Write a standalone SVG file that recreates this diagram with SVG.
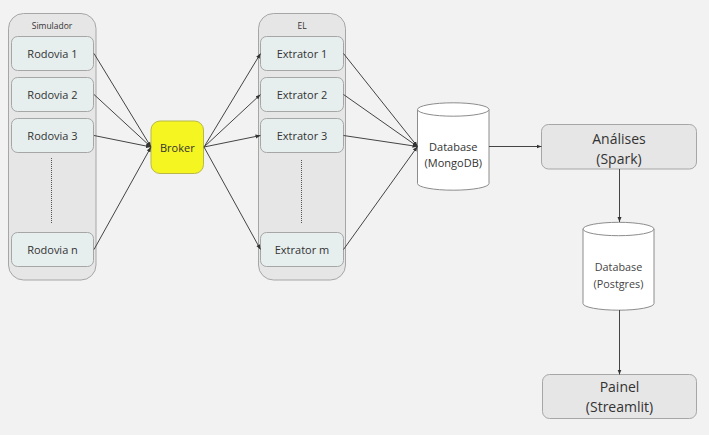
<svg xmlns="http://www.w3.org/2000/svg" width="709" height="435" viewBox="0 0 709 435">
<style>
text{font-family:"Open Sans","Noto Sans","DejaVu Sans",sans-serif;fill:#333;text-anchor:middle;dominant-baseline:central}
.cont{fill:#e6e6e6;stroke:#a6a6a6;stroke-width:1}
.box{fill:#e6eeee;stroke:#a6a6a6;stroke-width:1}
.gbox{fill:#e6e6e6;stroke:#a6a6a6;stroke-width:1}
.cyl{fill:#ffffff;stroke:#8c8c8c;stroke-width:1}
.t11{font-size:11px}
.t8{font-size:8.5px}
.t14{font-size:14px}
.t10{font-size:10.8px;fill:#444}
.dot{stroke:#555;stroke-width:1;stroke-dasharray:1 1;fill:none}
.edge{stroke:#444;stroke-width:1;fill:none;marker-end:url(#arr)}
</style>
<defs>
<marker id="arr" viewBox="0 0 10 10" refX="10" refY="5" markerWidth="5" markerHeight="5" orient="auto" markerUnits="userSpaceOnUse">
<path d="M0,1 L10,5 L0,9 Z" fill="#333"/>
</marker>
</defs>
<rect width="709" height="435" fill="#f2f2f2"/>

<g id="simulador">
<rect class="cont" x="8.5" y="13.5" width="87.5" height="266.5" rx="15"/>
<text class="t8" x="52" y="25">Simulador</text>
<line class="dot" x1="51.5" y1="158" x2="51.5" y2="223"/>
</g>
<g id="rodovia1"><rect class="box" x="11.5" y="36.5" width="82" height="34" rx="6"/><text class="t11" x="52.5" y="53.5">Rodovia 1</text></g>
<g id="rodovia2"><rect class="box" x="11.5" y="77.5" width="82" height="34" rx="6"/><text class="t11" x="52.5" y="94.5">Rodovia 2</text></g>
<g id="rodovia3"><rect class="box" x="11.5" y="118.5" width="82" height="34" rx="6"/><text class="t11" x="52.5" y="135.5">Rodovia 3</text></g>
<g id="rodovian"><rect class="box" x="11.5" y="232.5" width="82" height="34" rx="6"/><text class="t11" x="52.5" y="249.5">Rodovia n</text></g>

<g id="broker"><rect x="151" y="121" width="52.5" height="52.5" rx="9" fill="#f5f522" stroke="#b8b84a" stroke-width="1"/><text class="t11" x="177.3" y="147">Broker</text></g>

<g id="el">
<rect class="cont" x="258.5" y="13.5" width="87" height="266.5" rx="15"/>
<text class="t8" x="302" y="25">EL</text>
<line class="dot" x1="301.5" y1="160" x2="301.5" y2="224"/>
</g>
<g id="extrator1"><rect class="box" x="260.5" y="36.5" width="83" height="34" rx="6"/><text class="t11" x="302" y="53.5">Extrator 1</text></g>
<g id="extrator2"><rect class="box" x="260.5" y="77.5" width="83" height="34" rx="6"/><text class="t11" x="302" y="94.5">Extrator 2</text></g>
<g id="extrator3"><rect class="box" x="260.5" y="118.5" width="83" height="34" rx="6"/><text class="t11" x="302" y="135.5">Extrator 3</text></g>
<g id="extratorm"><rect class="box" x="260.5" y="232.5" width="83" height="34" rx="6"/><text class="t11" x="302" y="249.5">Extrator m</text></g>

<g id="mongodb">
<path class="cyl" d="M417.5,109.5 A35.75,6.7 0 0 1 489,109.5 L489,183.5 A35.75,6.7 0 0 1 417.5,183.5 Z"/>
<path class="cyl" fill="none" d="M417.5,109.5 A35.75,6.7 0 0 0 489,109.5"/>
<text class="t11" x="453.3" y="146.5">Database</text>
<text class="t11" x="453.3" y="162">(MongoDB)</text>
</g>

<g id="analises"><rect class="gbox" x="541.5" y="124.5" width="155" height="44.5" rx="7"/><text class="t14" x="619" y="138.5">Análises</text><text class="t14" x="619" y="158">(Spark)</text></g>

<g id="postgres">
<path class="cyl" d="M583,229 A35.5,6.7 0 0 1 654,229 L654,303.5 A35.5,6.7 0 0 1 583,303.5 Z"/>
<path class="cyl" fill="none" d="M583,229 A35.5,6.7 0 0 0 654,229"/>
<text class="t10" x="618.5" y="266">Database</text>
<text class="t10" x="618.5" y="283">(Postgres)</text>
</g>

<g id="painel"><rect class="gbox" x="542.5" y="374.5" width="154" height="44" rx="7"/><text class="t14" x="619.5" y="386.5">Painel</text><text class="t14" x="619.5" y="406.5">(Streamlit)</text></g>

<g id="connectors">
<line class="edge" x1="94" y1="53.5" x2="151" y2="147"/>
<line class="edge" x1="94" y1="94.5" x2="151" y2="147"/>
<line class="edge" x1="94" y1="135.5" x2="151" y2="147"/>
<line class="edge" x1="94" y1="249.5" x2="151" y2="147"/>
<line class="edge" x1="204" y1="147" x2="260.5" y2="53.5"/>
<line class="edge" x1="204" y1="147" x2="260.5" y2="94.5"/>
<line class="edge" x1="204" y1="147" x2="260.5" y2="135.5"/>
<line class="edge" x1="204" y1="147" x2="260.5" y2="249.5"/>
<line class="edge" x1="343.5" y1="53.5" x2="417.5" y2="146.5"/>
<line class="edge" x1="343.5" y1="94.5" x2="417.5" y2="146.5"/>
<line class="edge" x1="343.5" y1="135.5" x2="417.5" y2="146.5"/>
<line class="edge" x1="343.5" y1="249.5" x2="417.5" y2="146.5"/>
<line class="edge" x1="489" y1="146.5" x2="541.5" y2="146.5"/>
<line class="edge" x1="619.5" y1="169" x2="619.5" y2="222"/>
<line class="edge" x1="619.5" y1="310" x2="619.5" y2="374.5"/>
</g>
</svg>
